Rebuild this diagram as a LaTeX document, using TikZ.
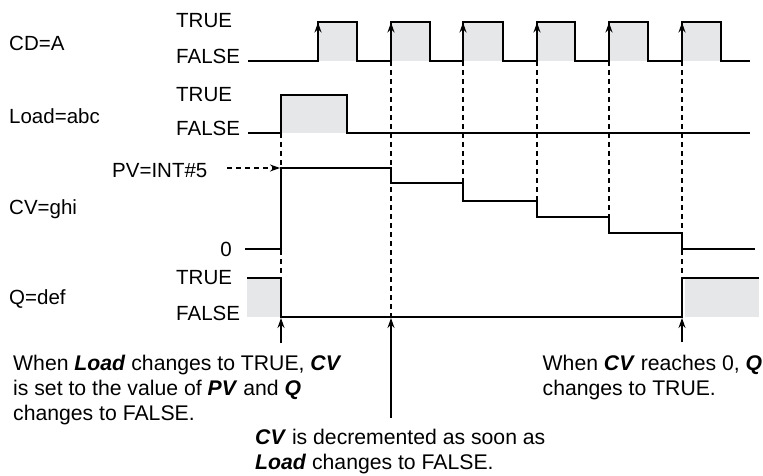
\documentclass[tikz,border=0pt]{standalone}
\usepackage{fontspec}
\setmainfont{Liberation Sans}
\usetikzlibrary{arrows.meta}
\definecolor{pulsegray}{RGB}{230,231,232}
\newcommand{\bi}[1]{\textbf{\textit{#1}}}
\begin{document}
\begin{tikzpicture}[x=1pt,y=-1pt,
  sig/.style={line width=2pt,line join=miter},
  guide/.style={line width=1.6pt,dash pattern=on 5pt off 4pt},
  tip/.style={-{Stealth[length=10pt,width=7pt]}},
  lbl/.style={inner sep=0pt,anchor=base west,font=\fontsize{20.5}{25}\selectfont},
  note/.style={inner sep=0pt,anchor=north west,align=left,font=\fontsize{21.2}{25}\selectfont},
  fillbox/.style={fill=pulsegray,draw=none}]
\useasboundingbox (0,0) rectangle (763,476);

% gray fills
\foreach \r/\f in {318/357,391/430,463/503,537/575,609/648,682/721}
  \fill[fillbox] (\r,22) rectangle (\f,61);
\fill[fillbox] (281,95) rectangle (347,133);
\fill[fillbox] (247,278) rectangle (281,317);
\fill[fillbox] (685,278) rectangle (759,317);

% dashed guide lines
\coordinate (g0t) at (281,133); \coordinate (g0b) at (281,278);
\coordinate (g1t) at (391,61);  \coordinate (g1b) at (391,317);
\coordinate (g2t) at (463,61);  \coordinate (g2b) at (463,183);
\coordinate (g3t) at (537,61);  \coordinate (g3b) at (537,201);
\coordinate (g4t) at (609,61);  \coordinate (g4b) at (609,217);
\coordinate (g5t) at (682,61);  \coordinate (g5b) at (682,278);
\foreach \i in {0,...,5} \draw[guide] (g\i t) -- (g\i b);

% CD=A waveform
\draw[sig] (248,61) \foreach \r/\f in {318/357,391/430,463/503,537/575,609/648,682/721}
  { -- (\r,61) -- (\r,22) -- (\f,22) -- (\f,61) } -- (750,61);
\foreach \r in {318,391,463,537,609,682}
  \draw[sig,line width=1.5pt,tip] (\r,50) -- (\r,22.5);

% Load=abc waveform
\draw[sig] (248,133) -- (281,133) -- (281,95) -- (347,95) -- (347,133) -- (750,133);

% CV=ghi waveform
\draw[sig] (245,249) -- (281,249) -- (281,168) -- (391,168) -- (391,183) -- (463,183)
  -- (463,201) -- (537,201) -- (537,217) -- (609,217) -- (609,233) -- (682,233)
  -- (682,249) -- (755,249);

% Q=def waveform
\draw[sig] (247,278) -- (281,278) -- (281,317) -- (682,317) -- (682,278) -- (759,278);

% labels
\node[lbl] (cd) at (9,51) {CD=A};
\node[lbl] (cdt) at (176,28) {TRUE};
\node[lbl] (cdf) at (176,64) {FALSE};
\node[lbl] (ld) at (9,124) {Load=abc};
\node[lbl] (ldt) at (176,102) {TRUE};
\node[lbl] (ldf) at (176,136) {FALSE};
\node[lbl] (pv) at (112,177) {PV=INT\#5};
\node[lbl] (cv) at (9,214) {CV=ghi};
\node[lbl,anchor=base east] (zero) at (232,256) {0};
\node[lbl] (q) at (9,304) {Q=def};
\node[lbl] (qt) at (176,284) {TRUE};
\node[lbl] (qf) at (176,320) {FALSE};

% PV arrow
\coordinate (pvs) at (227,168);
\coordinate (pve) at (280,168);
\draw[guide,line width=1.4pt,tip] (pvs) -- (pve);

% annotations
\node[note] (n1) at (13,354.7) {When \bi{Load} changes to TRUE, \bi{CV}\\is set to the value of \bi{PV} and \bi{Q}\\changes to FALSE.};
\node[note] (n2) at (255,428.7) {\bi{CV} is decremented as soon as\\\bi{Load} changes to FALSE.};
\node[note] (n3) at (542.5,354.7) {When \bi{CV} reaches 0, \bi{Q}\\changes to TRUE.};

\coordinate (a1s) at (281,343); \coordinate (a1e) at (281,318);
\coordinate (a2s) at (391,418); \coordinate (a2e) at (391,318);
\coordinate (a3s) at (682,342); \coordinate (a3e) at (682,318);
\foreach \i in {1,2,3} \draw[line width=1.5pt,tip] (a\i s) -- (a\i e);
\end{tikzpicture}
\end{document}
